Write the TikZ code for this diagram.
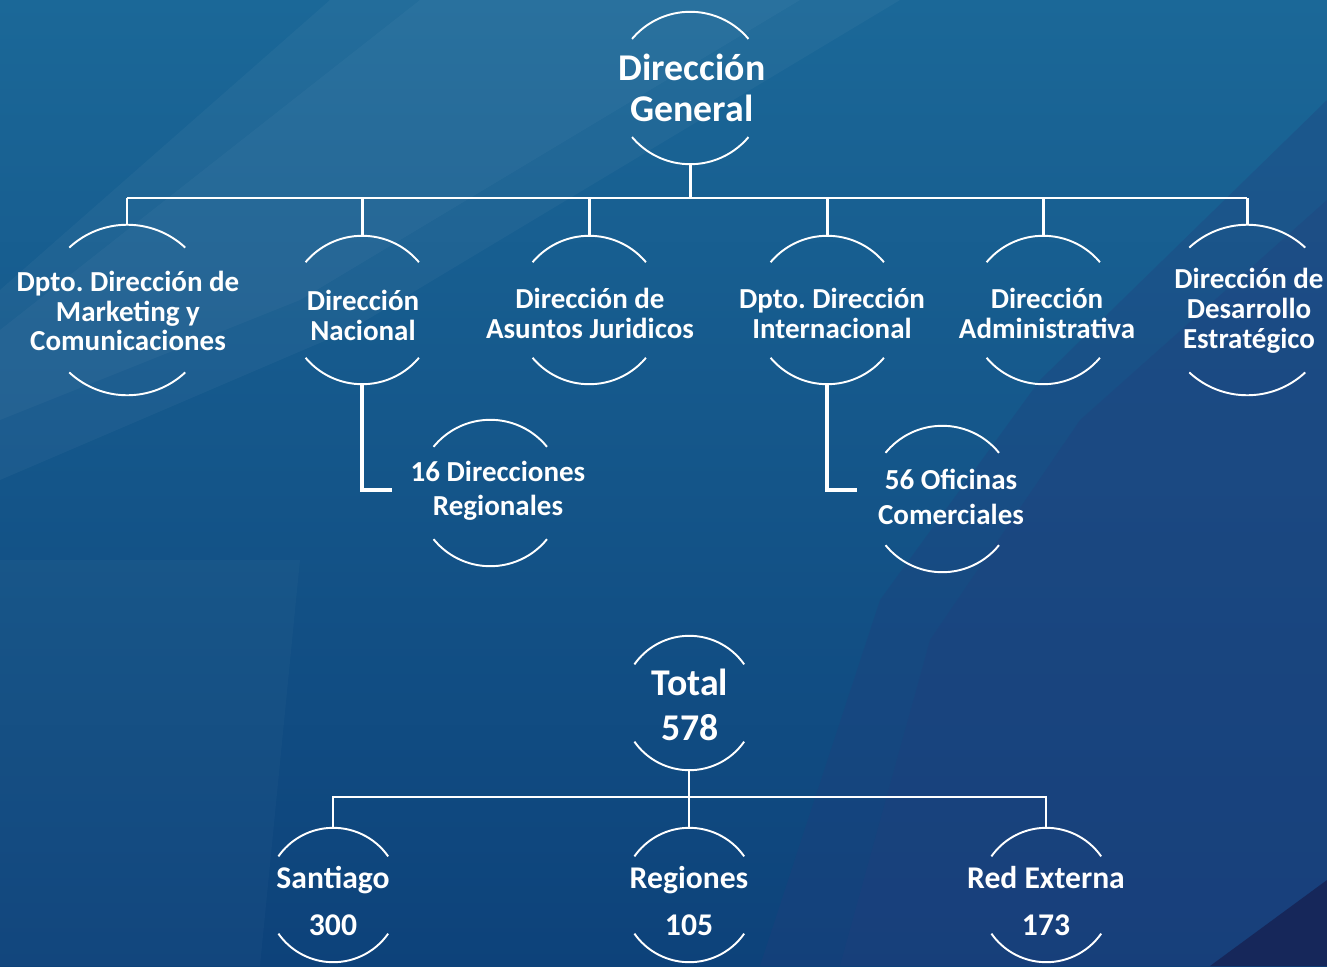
\documentclass[tikz,border=0pt]{standalone}
\usepackage{fontspec}
\setmainfont{Carlito}
\frenchspacing
\usetikzlibrary{positioning}

\definecolor{bgtop}{HTML}{1B6898}
\definecolor{bgbot}{HTML}{0D427A}
\definecolor{bgdark}{HTML}{223E7C}
\definecolor{bgnavy}{HTML}{16275A}

\begin{document}
\begin{tikzpicture}[x=0.02cm,y=-0.02cm,
    ring/.style={circle,inner sep=0pt,minimum size=2*#1*0.02cm},
    arcline/.style={white,line width=1.1pt},
    txt/.style={text=white,align=center,inner sep=0pt,
                font=\bfseries\fontsize{16.5}{17}\selectfont},
    bus/.style={white,line width=1.2pt},
    drop/.style={white,line width=1.7pt},
    elbow/.style={white,line width=2pt},
    lowbus/.style={white,line width=0.9pt}]
% fondo
\useasboundingbox (0,0) rectangle (1327,966);
\fill[top color=bgtop,bottom color=bgbot] (0,0) rectangle (1327,966);
\fill[white,opacity=0.035] (330,0) -- (900,0) -- (350,330) -- (0,480) -- (0,290) -- cycle;
\fill[white,opacity=0.03] (420,0) -- (800,0) -- (300,300) -- (0,420) -- (0,330) -- cycle;
\fill[bgdark,opacity=0.3] (1327,100) -- (1040,380) -- (880,600) -- (760,966) -- (1327,966) -- cycle;
\fill[bgdark,opacity=0.3] (1327,200) -- (1080,420) -- (930,640) -- (840,966) -- (1327,966) -- cycle;
\fill[white,opacity=0.025] (0,560) -- (300,560) -- (260,966) -- (0,966) -- cycle;
\fill[bgnavy] (1327,880) -- (1327,966) -- (1210,966) -- cycle;

% anillos
\node[ring=76] (gen) at (690,88) {};
\node[ring=85] (mkt) at (127,310) {};
\node[ring=74] (nac) at (362,310) {};
\node[ring=74] (jur) at (589,310) {};
\node[ring=74] (int) at (827,310) {};
\node[ring=74] (adm) at (1043,310) {};
\node[ring=85] (dde) at (1247,310) {};
\node[ring=73] (reg) at (490,493) {};
\node[ring=73] (ofi) at (942,499) {};
\node[ring=67] (tot) at (689,703) {};
\node[ring=67] (stg) at (333,895) {};
\node[ring=67] (rgs) at (689,895) {};
\node[ring=67] (ext) at (1046,895) {};

\foreach \n/\r/\a in {gen/76/40,mkt/85/47,nac/74/40,jur/74/40,int/74/40,
                      adm/74/40,dde/85/47,reg/73/39,ofi/73/39,tot/67/35,
                      stg/67/35,rgs/67/35,ext/67/35}{
  \draw[arcline] (\n.\a) arc[start angle=\a,end angle=180-\a,radius=\r*0.02cm];
  \draw[arcline] (\n.-\a) arc[start angle=-\a,end angle=-180+\a,radius=\r*0.02cm];
}

% textos
\node[txt,font=\bfseries\fontsize{21.5}{23.5}\selectfont] (gen-t) at (692,88) {Dirección\\General};
\node[txt] (mkt-t) at (128,311) {Dpto. Dirección de\\Marketing y\\Comunicaciones};
\node[txt] (nac-t) at (363,315) {Dirección\\Nacional};
\node[txt] (jur-t) at (590,313) {Dirección de\\Asuntos Juridicos};
\node[txt] (int-t) at (832,313) {Dpto. Dirección\\Internacional};
\node[txt] (adm-t) at (1047,313) {Dirección\\Administrativa};
\node[txt] (dde-t) at (1249,311) {Dirección de\\Desarrollo\\Estratégico};
\node[txt,font=\bfseries\fontsize{16.5}{19.5}\selectfont] (reg-t) at (498,491) {16 Direcciones\\Regionales};
\node[txt,font=\bfseries\fontsize{16.5}{19.5}\selectfont] (ofi-t) at (951,497) {56 Oficinas\\Comerciales};
\node[txt,font=\bfseries\fontsize{21.5}{25.5}\selectfont] (tot-t) at (690,705) {Total\\578};
\node[txt,font=\bfseries\fontsize{18}{27}\selectfont] (stg-t) at (333,901) {Santiago\\300};
\node[txt,font=\bfseries\fontsize{18}{27}\selectfont] (rgs-t) at (689,901) {Regiones\\105};
\node[txt,font=\bfseries\fontsize{18}{27}\selectfont] (ext-t) at (1046,901) {Red Externa\\173};

% conectores
\coordinate (topbus) at (690,198);
\draw[drop] (gen.south) -- (topbus);
\draw[bus] (topbus -| mkt.north) -- (topbus -| dde.north);
\foreach \n in {mkt,nac,jur,int,adm,dde}
  \draw[drop] (topbus -| \n.north) -- (\n.north);

\coordinate (reg-in) at (392,490);
\coordinate (ofi-in) at (857,490);
\draw[elbow] (nac.south) |- (reg-in);
\draw[elbow] (int.south) |- (ofi-in);

\coordinate (lowbus) at (689,797);
\draw[lowbus] (tot.south) -- (rgs.north);
\draw[lowbus] (stg.north) |- (lowbus) -| (ext.north);
\end{tikzpicture}
\end{document}
